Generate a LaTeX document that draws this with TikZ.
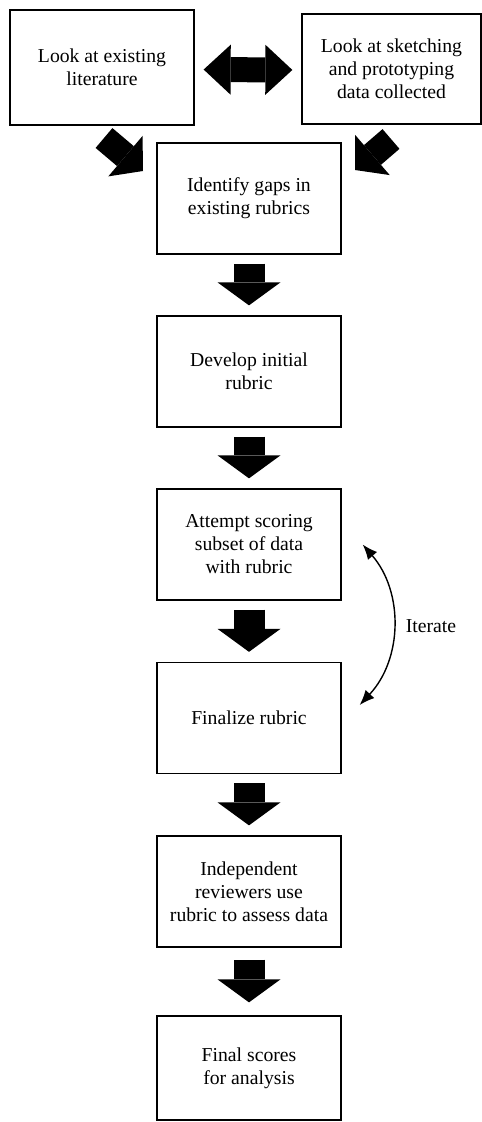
\documentclass[tikz,border=0pt]{standalone}
\usepackage{fontspec}
\setmainfont{Liberation Serif}
\usetikzlibrary{arrows.meta}
\begin{document}
\begin{tikzpicture}[x=1pt, y=-1pt,
	box/.style={draw, line width=1.3pt, minimum width=184pt, minimum height=111pt, align=center, inner sep=2pt, font=\fontsize{19.7}{23}\selectfont},
	downarrow/.style={line width=31pt, -{Triangle[width=63pt, length=23pt, line width=0pt]}, shorten <=9pt, shorten >=10pt},
	sidearrow/.style={line width=25pt, {Triangle[width=50pt, length=27pt, line width=0pt]}-{Triangle[width=50pt, length=27pt, line width=0pt]}, shorten <=9pt, shorten >=9pt},
	diagarrow/.style={line width=26pt, -{Triangle[width=53pt, length=23pt, line width=0pt]}},
	looparrow/.style={line width=1.4pt, {Latex[length=15pt, width=12pt]}-{Latex[length=15pt, width=12pt]}}]
	    \useasboundingbox (0,0) rectangle (482,1122);
	
	    \node[box, minimum height=115pt] (lit) at (102,67.5) {Look at existing\\literature};
	    \node[box, minimum width=179pt, minimum height=110pt] (sketch) at (391.5,69) {Look at sketching\\and prototyping\\data collected};
	    \node[box] (gaps) at (249,198.5) {Identify gaps in\\existing rubrics};
	    \node[box] (develop) at (249,371.5) {Develop initial\\rubric};
	    \node[box] (attempt) at (249,544.5) {Attempt scoring\\subset of data\\with rubric};
	    \node[box] (finalize) at (249,718) {Finalize rubric};
	    \node[box] (review) at (249,891.5) {Independent\\reviewers use\\rubric to assess data};
	    \node[box, minimum height=104pt] (scores) at (249,1068) {Final scores\\for analysis};
	    \node[font=\fontsize{19.7}{23}\selectfont] (iter) at (431,626) {Iterate};
	
	    \coordinate (litout) at (104,138);
	    \coordinate (litin) at (143,171);
	    \coordinate (sketchout) at (391,139);
	    \coordinate (sketchin) at (355,170);
	
		\draw[sidearrow] ([yshift=-2pt]lit.east) -- ([yshift=-1pt]sketch.west);
		\draw[diagarrow] (litout) -- (litin);
		\draw[diagarrow] (sketchout) -- (sketchin);
		\draw[downarrow] (gaps) -- (develop);
		\draw[downarrow] (develop) -- (attempt);
		\draw[downarrow] (attempt) -- (finalize);
		\draw[downarrow] (finalize) -- (review);
		\draw[downarrow, shorten <=12pt, shorten >=13pt] (review) -- (scores);
		\draw[looparrow] ([xshift=21pt]attempt.east) to[bend left=42] ([xshift=18pt, yshift=13pt]finalize.east);
	\end{tikzpicture}
\end{document}
